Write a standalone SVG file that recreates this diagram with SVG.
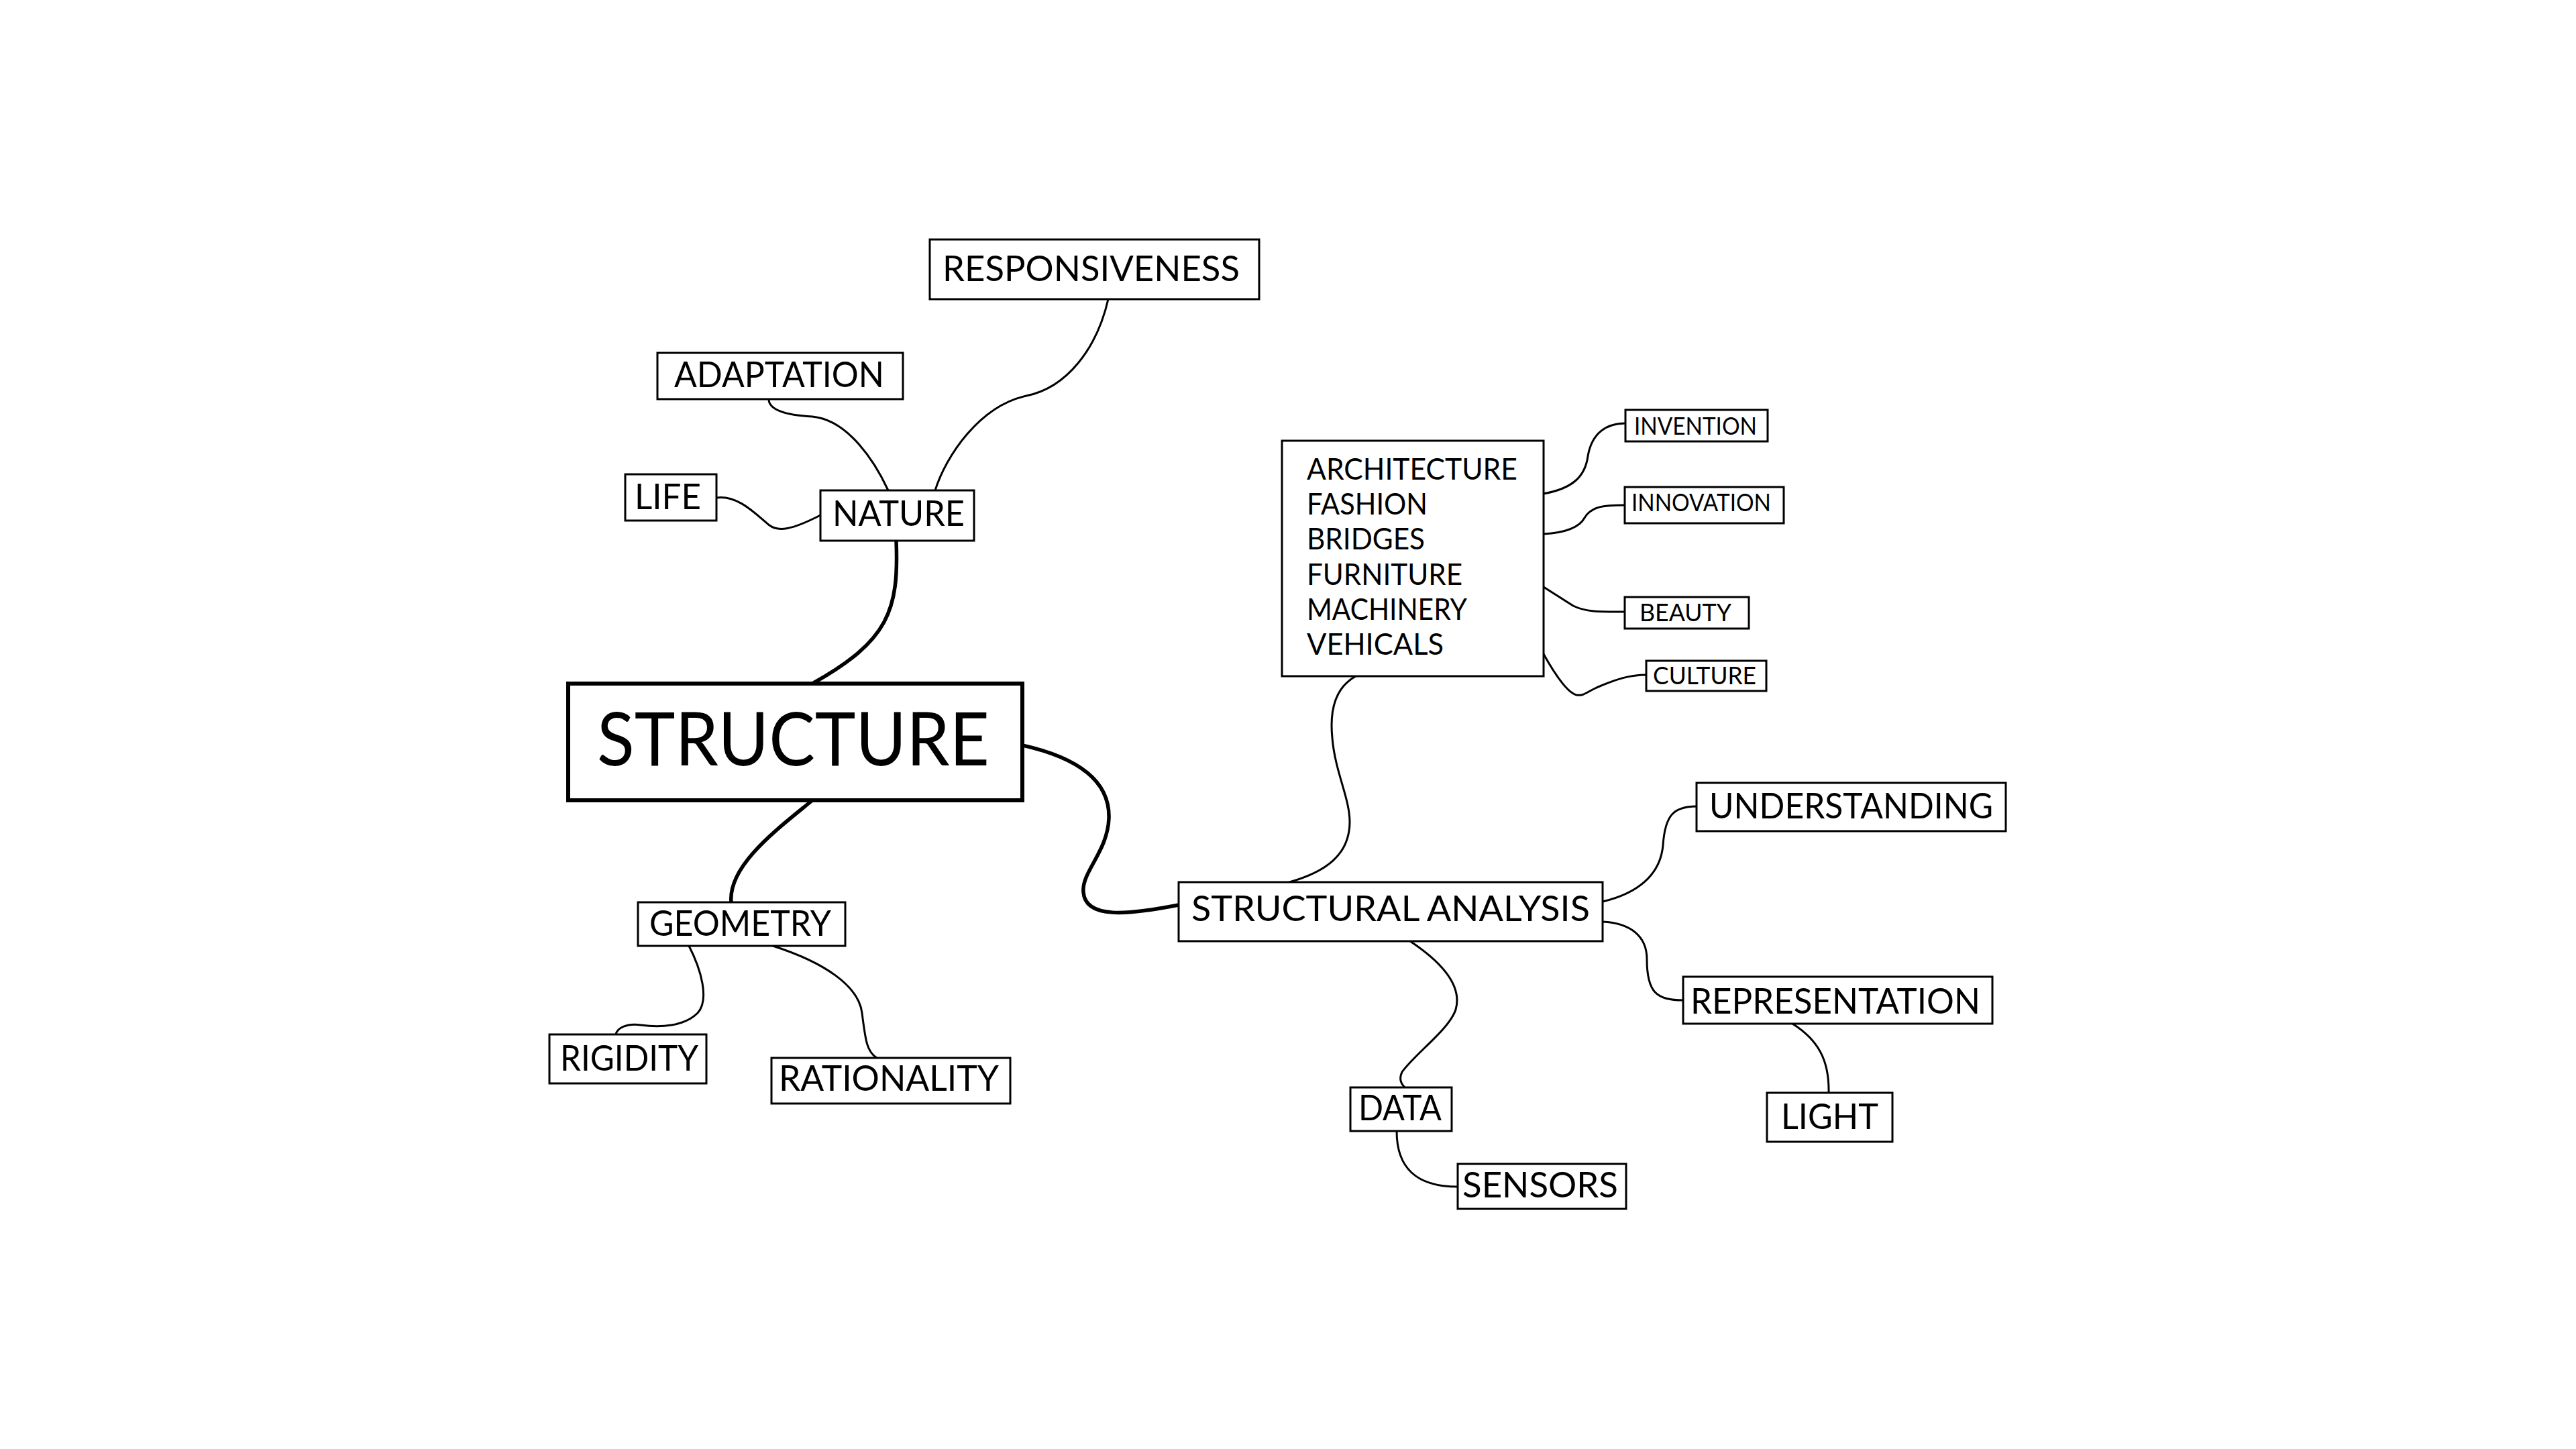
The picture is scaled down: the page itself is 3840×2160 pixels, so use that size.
<svg xmlns="http://www.w3.org/2000/svg" width="3840" height="2160" viewBox="0 0 3840 2160">
<style>
  .box { fill: #ffffff; stroke: #000000; stroke-width: 3; }
  .main { fill: #ffffff; stroke: #000000; stroke-width: 6; }
  text { font-family: Lato, "Noto Sans", "Liberation Sans", sans-serif; fill: #000000; }
  .m { font-size: 53px; }
  .s { font-size: 36px; }
  .l { font-size: 44px; }
  .xl { font-size: 110px; }
  .c { fill: none; stroke: #000000; stroke-width: 3; stroke-linecap: round; }
  .ct { fill: none; stroke: #000000; stroke-width: 5.5; stroke-linecap: round; }
</style>
<rect x="0" y="0" width="3840" height="2160" fill="#ffffff"/>
<g id="connectors">
  <path class="ct" d="M1336,806 C1340,910 1325,955 1211,1019"/>
  <path class="c" d="M1146,595 C1146,612 1175,619 1211,621 C1265,626 1305,690 1324,731"/>
  <path class="c" d="M1652,446 C1635,520 1590,578 1530,590 C1460,605 1410,680 1394,731"/>
  <path class="c" d="M1068,742 C1100,738 1125,765 1147,783 C1160,793 1180,790 1223,768"/>
  <path class="ct" d="M1211,1193 C1160,1235 1085,1290 1090,1345"/>
  <path class="c" d="M1027,1410 C1045,1445 1058,1490 1040,1510 C1020,1530 985,1532 955,1528 C935,1525 920,1532 918,1542"/>
  <path class="c" d="M1152,1410 C1230,1435 1280,1470 1285,1510 C1290,1550 1292,1568 1307,1577"/>
  <path class="ct" d="M1524,1111 C1600,1128 1655,1160 1653,1220 C1651,1270 1612,1300 1615,1330 C1618,1370 1680,1364 1757,1349"/>
  <path class="c" d="M2021,1008 C1990,1025 1982,1060 1986,1100 C1990,1150 2012,1190 2012,1225 C2012,1275 1975,1300 1922,1315"/>
  <path class="c" d="M2102,1403 C2150,1435 2180,1470 2170,1505 C2160,1535 2110,1570 2090,1598 C2085,1608 2088,1615 2094,1621"/>
  <path class="c" d="M2082,1686 C2082,1740 2110,1769 2173,1769"/>
  <path class="c" d="M2389,1344 C2440,1332 2475,1305 2479,1260 C2482,1215 2495,1202 2529,1202"/>
  <path class="c" d="M2389,1374 C2430,1376 2455,1395 2455,1430 C2455,1480 2470,1491 2509,1491"/>
  <path class="c" d="M2672,1526 C2710,1550 2727,1580 2726,1629"/>
  <path class="c" d="M2301,736 C2345,728 2363,710 2367,680 C2373,645 2395,631 2423,631"/>
  <path class="c" d="M2301,796 C2335,794 2355,785 2362,772 C2372,755 2390,753 2422,753"/>
  <path class="c" d="M2301,875 C2320,887 2335,897 2345,903 C2365,913 2390,912 2422,912"/>
  <path class="c" d="M2301,975 C2315,1000 2335,1032 2350,1036 C2360,1038 2365,1032 2380,1025 C2410,1012 2430,1006 2454,1006"/>
</g>
<g id="structure">
  <rect class="main" x="847" y="1019" width="677" height="174"/>
  <text class="xl" x="890" y="1141" textLength="585" lengthAdjust="spacingAndGlyphs">STRUCTURE</text>
</g>
<g id="responsiveness">
  <rect class="box" x="1386" y="357" width="491" height="89"/>
  <text class="m" x="1405" y="419" textLength="443" lengthAdjust="spacingAndGlyphs">RESPONSIVENESS</text>
</g>
<g id="adaptation">
  <rect class="box" x="980" y="526" width="366" height="69"/>
  <text class="m" x="1005" y="577" textLength="313" lengthAdjust="spacingAndGlyphs">ADAPTATION</text>
</g>
<g id="life">
  <rect class="box" x="932" y="707" width="136" height="69"/>
  <text class="m" x="946" y="759" textLength="99" lengthAdjust="spacingAndGlyphs">LIFE</text>
</g>
<g id="nature">
  <rect class="box" x="1223" y="731" width="229" height="75"/>
  <text class="m" x="1241" y="784" textLength="197" lengthAdjust="spacingAndGlyphs">NATURE</text>
</g>
<g id="geometry">
  <rect class="box" x="951" y="1345" width="309" height="65"/>
  <text class="m" x="968" y="1395" textLength="271" lengthAdjust="spacingAndGlyphs">GEOMETRY</text>
</g>
<g id="rigidity">
  <rect class="box" x="819" y="1542" width="234" height="73"/>
  <text class="m" x="835" y="1596" textLength="206" lengthAdjust="spacingAndGlyphs">RIGIDITY</text>
</g>
<g id="rationality">
  <rect class="box" x="1150" y="1577" width="356" height="68"/>
  <text class="m" x="1161" y="1626" textLength="328" lengthAdjust="spacingAndGlyphs">RATIONALITY</text>
</g>
<g id="applications">
  <rect class="box" x="1911" y="657" width="390" height="351"/>
  <text class="l" x="1948" y="715" textLength="314" lengthAdjust="spacingAndGlyphs">ARCHITECTURE</text>
  <text class="l" x="1948" y="767" textLength="180" lengthAdjust="spacingAndGlyphs">FASHION</text>
  <text class="l" x="1948" y="819" textLength="176" lengthAdjust="spacingAndGlyphs">BRIDGES</text>
  <text class="l" x="1948" y="872" textLength="232" lengthAdjust="spacingAndGlyphs">FURNITURE</text>
  <text class="l" x="1948" y="924" textLength="239" lengthAdjust="spacingAndGlyphs">MACHINERY</text>
  <text class="l" x="1948" y="976" textLength="204" lengthAdjust="spacingAndGlyphs">VEHICALS</text>
</g>
<g id="invention">
  <rect class="box" x="2423" y="611" width="212" height="47"/>
  <text class="s" x="2436" y="648" textLength="183" lengthAdjust="spacingAndGlyphs">INVENTION</text>
</g>
<g id="innovation">
  <rect class="box" x="2422" y="726" width="237" height="54"/>
  <text class="s" x="2432" y="762" textLength="208" lengthAdjust="spacingAndGlyphs">INNOVATION</text>
</g>
<g id="beauty">
  <rect class="box" x="2422" y="890" width="185" height="47"/>
  <text class="s" x="2444" y="926" textLength="137" lengthAdjust="spacingAndGlyphs">BEAUTY</text>
</g>
<g id="culture">
  <rect class="box" x="2454" y="985" width="179" height="45"/>
  <text class="s" x="2464" y="1020" textLength="154" lengthAdjust="spacingAndGlyphs">CULTURE</text>
</g>
<g id="structural-analysis">
  <rect class="box" x="1757" y="1315" width="632" height="88"/>
  <text class="m" x="1776" y="1373" textLength="594" lengthAdjust="spacingAndGlyphs">STRUCTURAL ANALYSIS</text>
</g>
<g id="understanding">
  <rect class="box" x="2529" y="1167" width="461" height="72"/>
  <text class="m" x="2548" y="1220" textLength="423" lengthAdjust="spacingAndGlyphs">UNDERSTANDING</text>
</g>
<g id="representation">
  <rect class="box" x="2509" y="1456" width="461" height="70"/>
  <text class="m" x="2520" y="1511" textLength="432" lengthAdjust="spacingAndGlyphs">REPRESENTATION</text>
</g>
<g id="light">
  <rect class="box" x="2634" y="1629" width="187" height="73"/>
  <text class="m" x="2655" y="1683" textLength="145" lengthAdjust="spacingAndGlyphs">LIGHT</text>
</g>
<g id="data">
  <rect class="box" x="2013" y="1621" width="151" height="65"/>
  <text class="m" x="2025" y="1670" textLength="124" lengthAdjust="spacingAndGlyphs">DATA</text>
</g>
<g id="sensors">
  <rect class="box" x="2173" y="1735" width="251" height="67"/>
  <text class="m" x="2180" y="1785" textLength="232" lengthAdjust="spacingAndGlyphs">SENSORS</text>
</g>
</svg>
